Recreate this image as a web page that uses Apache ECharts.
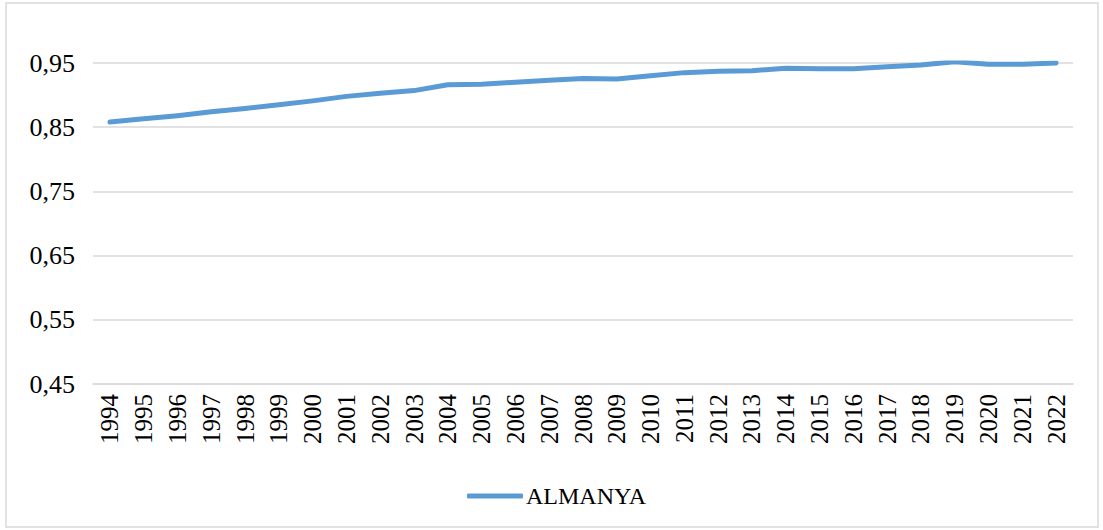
<!DOCTYPE html>
<html>
<head>
<meta charset="utf-8">
<script src="https://cdn.jsdelivr.net/npm/echarts@6/dist/echarts.min.js"></script>
<style>
  html, body { margin: 0; padding: 0; background: #fff; }
  #chart { width: 1103px; height: 530px; }
</style>
</head>
<body>
<div id="chart"></div>
<script>
var years = ['1994', '1995', '1996', '1997', '1998', '1999', '2000', '2001', '2002', '2003',
  '2004', '2005', '2006', '2007', '2008', '2009', '2010', '2011', '2012', '2013',
  '2014', '2015', '2016', '2017', '2018', '2019', '2020', '2021', '2022'];
var almanya = [0.858, 0.863, 0.868, 0.874, 0.879, 0.885, 0.891, 0.898, 0.903, 0.907,
  0.916, 0.917, 0.920, 0.923, 0.926, 0.925, 0.930, 0.935, 0.937, 0.938,
  0.942, 0.941, 0.941, 0.944, 0.947, 0.952, 0.948, 0.948, 0.950];
var seriesName = 'ALMANYA';

(function() {
  var font = '"Liberation Serif", "Times New Roman", serif';
  var grey = '#d9d9d9';
  var blue = '#5b9bd5';

  var chart = echarts.init(document.getElementById('chart'), null, { renderer: 'svg' });
  chart.setOption({
    animation: false,
    textStyle: { fontFamily: font },
    graphic: [{
      type: 'rect',
      shape: { x: 6, y: 3, width: 1092, height: 524 },
      style: { fill: 'none', stroke: grey, lineWidth: 1.5 },
      silent: true
    }],
    grid: { left: 93, right: 30, top: 63, bottom: 146 },
    legend: {
      data: [seriesName],
      left: 462,
      top: 479,
      icon: 'roundRect',
      itemWidth: 56,
      itemHeight: 5,
      itemGap: 4,
      textStyle: { color: '#000', fontSize: 24, fontFamily: font, padding: [0, 0, 0, -2] }
    },
    xAxis: {
      type: 'category',
      data: years,
      boundaryGap: true,
      axisLine: { lineStyle: { color: grey, width: 1.5 } },
      axisTick: { show: false },
      axisLabel: { color: '#000', fontSize: 25, fontFamily: font, rotate: 90, margin: 10, interval: 0 }
    },
    yAxis: {
      type: 'value',
      min: 0.45,
      max: 0.95,
      interval: 0.1,
      axisLine: { show: false },
      axisTick: { show: false },
      splitLine: { lineStyle: { color: grey, width: 1.5 } },
      axisLabel: {
        color: '#000', fontSize: 26, fontFamily: font, margin: 18,
        formatter: function(v) { return v.toFixed(2).replace('.', ','); }
      }
    },
    series: [{
      name: seriesName,
      type: 'line',
      data: almanya,
      symbol: 'none',
      lineStyle: { color: blue, width: 5, cap: 'round', join: 'round' },
      itemStyle: { color: blue }
    }]
  });
})();
</script>
</body>
</html>
